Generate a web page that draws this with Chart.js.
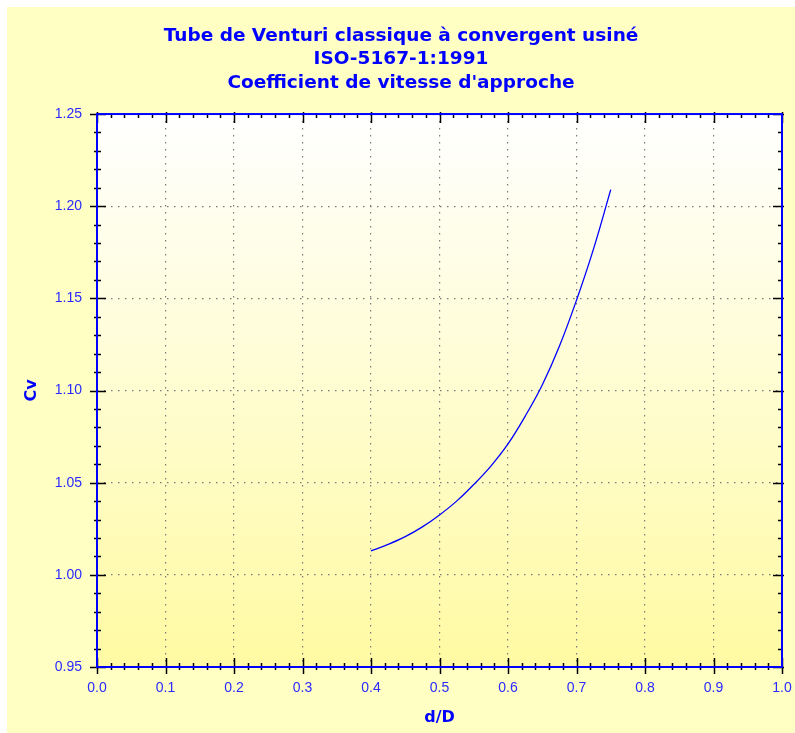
<!DOCTYPE html>
<html>
<head>
<meta charset="utf-8">
<script src="https://cdn.jsdelivr.net/npm/chart.js@4/dist/chart.umd.min.js"></script>
<style>
    html, body { margin: 0; padding: 0; background: #ffffff; }
    #wrap { position: absolute; left: 7px; top: 7px; width: 788px; height: 726px; }
</style>
</head>
<body>
<div id="wrap"><canvas id="chart" width="788" height="726"></canvas></div>
<script>
// values
const ratios = [0.40, 0.425, 0.45, 0.475, 0.50, 0.525, 0.55, 0.575, 0.60, 0.625, 0.65, 0.675, 0.70, 0.725, 0.75]
const cvValues = [1.013, 1.0165, 1.0207, 1.026, 1.0325, 1.040, 1.049, 1.059, 1.071, 1.086, 1.103, 1.124, 1.149, 1.177, 1.209]
const titleLines = ['Tube de Venturi classique à convergent usiné', 'ISO-5167-1:1991', "Coefficient de vitesse d'approche"]
const xRange = { min: 0, max: 1, minorStep: 0.02 }
const yRange = { min: 0.95, max: 1.25, minorStep: 0.01 }

const BLUE = '#0000ff'
const LABEL_BLUE = '#2a2aff'
const WIDE_FONT = 'DejaVu Sans, Verdana, sans-serif'
const TICK_FONT = 'Liberation Sans, Arial, sans-serif'

const isMajorX = v => Math.round(v * 100) % 10 === 0
const isMajorY = v => Math.round(v * 100) % 5 === 0

const framePlugin = {
    id: 'frame',
    beforeDraw(chart) {
        const { ctx, chartArea: a, width, height } = chart
        ctx.save()
        ctx.fillStyle = '#ffffc4'
        ctx.fillRect(0, 0, width, height)
        const g = ctx.createLinearGradient(0, a.top, 0, a.bottom)
        g.addColorStop(0, '#ffffff')
        g.addColorStop(1, '#fffaa2')
        ctx.fillStyle = g
        ctx.fillRect(a.left, a.top, a.right - a.left, a.bottom - a.top)
        ctx.restore()
    },
    afterDraw(chart) {
        const { ctx, chartArea: a } = chart
        const xs = chart.scales.x
        const ys = chart.scales.y
        ctx.save()
        ctx.strokeStyle = '#000000'
        ctx.lineWidth = 1.5
        ctx.beginPath()
        xs.ticks.forEach(t => {
            const px = Math.round(xs.getPixelForValue(t.value)) + 0.5
            const major = isMajorX(t.value)
            const inner = major ? 9 : 4
            const outer = major ? 7 : 3
            ctx.moveTo(px, a.bottom + outer)
            ctx.lineTo(px, a.bottom - inner)
            ctx.moveTo(px, a.top - (major ? 2 : 1))
            ctx.lineTo(px, a.top + inner)
        })
        ys.ticks.forEach(t => {
            const py = Math.round(ys.getPixelForValue(t.value)) + 0.5
            const major = isMajorY(t.value)
            const inner = major ? 9 : 4
            const outer = major ? 7 : 3
            ctx.moveTo(a.left - outer, py)
            ctx.lineTo(a.left + inner, py)
            ctx.moveTo(a.right + (major ? 2 : 1), py)
            ctx.lineTo(a.right - inner, py)
        })
        ctx.stroke()
        ctx.strokeStyle = BLUE
        ctx.lineWidth = 2
        ctx.strokeRect(a.left, a.top, a.right - a.left, a.bottom - a.top)
        ctx.restore()
    }
}

new Chart(document.getElementById('chart'), {
    type: 'line',
    data: {
        datasets: [{
            data: ratios.map((r, i) => ({ x: r, y: cvValues[i] })),
            borderColor: BLUE,
            borderWidth: 1.3,
            pointRadius: 0,
            fill: false,
            tension: 0.4
        }]
    },
    options: {
        animation: false,
        responsive: false,
        maintainAspectRatio: false,
        layout: { padding: 0 },
        plugins: {
            legend: { display: false },
            tooltip: { enabled: false },
            title: {
                display: true,
                text: titleLines,
                color: BLUE,
                font: { family: WIDE_FONT, size: 18.5, weight: 'bold', lineHeight: 1.28 },
                padding: { top: 17, bottom: 19 }
            }
        },
        scales: {
            x: {
                type: 'linear',
                min: xRange.min,
                max: xRange.max,
                afterFit(scale) {
                    scale.height = 66
                    scale.paddingLeft = 0
                    scale.paddingRight = 13
                },
                ticks: {
                    stepSize: xRange.minorStep,
                    autoSkip: false,
                    maxRotation: 0,
                    padding: 13,
                    color: LABEL_BLUE,
                    font: { family: TICK_FONT, size: 14 },
                    callback: v => isMajorX(v) ? v.toFixed(1) : ''
                },
                grid: {
                    drawTicks: false,
                    color: ctx => (ctx.tick && isMajorX(ctx.tick.value) && ctx.tick.value > 0 && ctx.tick.value < 1) ? '#7a7a7a' : 'transparent',
                    lineWidth: 1.2
                },
                border: { display: false, dash: [1.5, 5.5] },
                title: {
                    display: true,
                    text: 'd/D',
                    color: BLUE,
                    font: { family: WIDE_FONT, size: 16, weight: 'bold' },
                    padding: { top: 0, bottom: 6 }
                }
            },
            y: {
                type: 'linear',
                min: yRange.min,
                max: yRange.max,
                afterFit(scale) { scale.width = 90 },
                ticks: {
                    stepSize: yRange.minorStep,
                    autoSkip: false,
                    padding: 15,
                    color: LABEL_BLUE,
                    font: { family: TICK_FONT, size: 14 },
                    callback: v => isMajorY(v) ? v.toFixed(2) : ''
                },
                grid: {
                    drawTicks: false,
                    color: ctx => (ctx.tick && isMajorY(ctx.tick.value) && ctx.tick.value > 0.955 && ctx.tick.value < 1.245) ? '#7a7a7a' : 'transparent',
                    lineWidth: 1.2
                },
                border: { display: false, dash: [1.5, 5.5] },
                title: {
                    display: true,
                    text: 'Cv',
                    color: BLUE,
                    font: { family: WIDE_FONT, size: 16, weight: 'bold' },
                    padding: { top: 15, bottom: 0 }
                }
            }
        }
    },
    plugins: [framePlugin]
})
</script>
</body>
</html>
